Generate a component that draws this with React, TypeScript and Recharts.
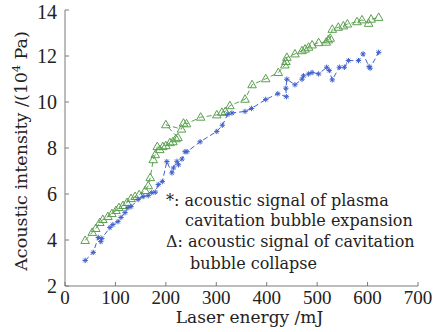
import React from 'react'
import { ScatterChart, Scatter, XAxis, YAxis, Label } from 'recharts'

// axes
const xTicks = [0, 100, 200, 300, 400, 500, 600, 700]
const yTicks = [2, 4, 6, 8, 10, 12, 14]

// "*" : acoustic signal of plasma cavitation bubble expansion
const expansionEnergy = [
  40, 56, 66, 71, 73, 89, 95, 105, 111, 119, 125, 131, 145, 155, 165, 172, 179, 185, 193, 202,
  212, 215, 222, 225, 232, 238, 242, 268, 301, 312, 323, 331, 357, 370, 398, 422, 439, 438, 440,
  456, 470, 473, 483, 490, 503, 519, 524, 530, 544, 554, 562, 582, 591, 603, 605, 622
]
const expansionIntensity = [
  3.11, 3.46, 4.11, 3.93, 4.07, 4.54, 4.67, 4.8, 4.98, 5.19, 5.41, 5.45, 5.76, 5.89, 5.93, 6.06,
  6.08, 6.41, 6.54, 7.41, 6.92, 7.13, 7.42, 7.27, 7.52, 7.84, 7.84, 8.27, 8.72, 8.99, 9.47, 9.52,
  9.59, 9.72, 10.11, 10.36, 10.23, 10.6, 10.99, 10.75, 10.99, 11.14, 11.22, 11.28, 11.22, 11.51,
  11.37, 10.96, 11.51, 11.51, 11.8, 11.8, 12.09, 11.54, 11.47, 12.16
]

// "Δ" : acoustic signal of cavitation bubble collapse
const collapseEnergy = [
  40, 54, 61, 69, 75, 85, 93, 101, 107, 115, 123, 131, 139, 147, 159, 165, 169, 175, 179, 183,
  188, 194, 200, 208, 214, 220, 224, 200, 231, 235, 241, 269, 301, 311, 318, 327, 357, 371, 398,
  423, 436, 438, 440, 456, 470, 476, 483, 490, 503, 518, 522, 526, 530, 542, 552, 560, 579, 589,
  602, 607, 622
]
const collapseIntensity = [
  3.98, 4.33, 4.5, 4.76, 4.89, 5.02, 5.15, 5.28, 5.41, 5.5, 5.63, 5.8, 5.89, 5.97, 6.15, 6.36,
  6.71, 7.49, 7.71, 8.06, 7.93, 8.06, 8.1, 8.23, 8.27, 8.4, 8.45, 9.01, 8.82, 9.08, 9.05, 9.34,
  9.44, 9.55, 9.59, 9.84, 10.12, 10.75, 11.01, 11.28, 11.61, 11.76, 11.94, 12.09, 12.23, 12.3,
  12.38, 12.48, 12.58, 12.6, 12.7, 12.77, 13.16, 13.25, 13.31, 13.39, 13.49, 13.57, 13.42, 13.6,
  13.68
]

const legendLines = [
  '*: acoustic signal of plasma',
  'cavitation bubble expansion',
  'Δ: acoustic signal of cavitation',
  'bubble collapse'
]

const GREEN = '#5aa04e'
const BLUE = '#4060cc'
const AXIS = '#7a7a7a'
const SERIF = '"DejaVu Serif", serif'
const TICK_FONT = '"Liberation Serif", serif'

const expansionData = expansionEnergy.map((e, i) => ({ e, v: expansionIntensity[i] }))
const collapseData = collapseEnergy.map((e, i) => ({ e, v: collapseIntensity[i] }))

// hollow triangle marker
// eslint-disable-next-line @typescript-eslint/no-explicit-any
const TriangleMark = (props: any): React.JSX.Element => {
  const { cx, cy } = props
  return (
    <polygon
      points={`${cx},${cy - 4.5} ${cx - 4.3},${cy + 3} ${cx + 4.3},${cy + 3}`}
      fill="none"
      stroke={GREEN}
      strokeWidth={1}
    />
  )
}

// asterisk marker
// eslint-disable-next-line @typescript-eslint/no-explicit-any
const StarMark = (props: any): React.JSX.Element => {
  const { cx, cy } = props
  const r = 2.7
  const d = 1.9
  return (
    <g stroke={BLUE} strokeWidth={1}>
      <line x1={cx - r} y1={cy} x2={cx + r} y2={cy} />
      <line x1={cx} y1={cy - r} x2={cx} y2={cy + r} />
      <line x1={cx - d} y1={cy - d} x2={cx + d} y2={cy + d} />
      <line x1={cx - d} y1={cy + d} x2={cx + d} y2={cy - d} />
    </g>
  )
}

const legendPos = [
  { left: 166, top: 191 },
  { left: 185, top: 211 },
  { left: 166, top: 232 },
  { left: 190, top: 254 }
]

export default function App(): React.JSX.Element {
  return (
    <div style={{ position: 'absolute', left: 0, top: 0, width: 447, height: 332, background: '#fff' }}>
      <ScatterChart width={447} height={332} margin={{ top: 10, right: 29, bottom: 0, left: 0 }}>
        <XAxis
          dataKey="e"
          type="number"
          domain={[0, 700]}
          ticks={xTicks}
          height={46}
          stroke={AXIS}
          tickSize={-4}
          tickMargin={9}
          tick={{ fill: '#222', fontSize: 19, fontFamily: TICK_FONT }}
        >
          <Label
            // eslint-disable-next-line @typescript-eslint/no-explicit-any
            content={(p: any) => {
              const vb = p.viewBox
              return (
                <text
                  x={vb.x + vb.width / 2 + 8}
                  y={vb.y + 37}
                  textAnchor="middle"
                  fontFamily={SERIF}
                  fontSize={17}
                  fill="#222"
                >
                  Laser energy /mJ
                </text>
              )
            }}
          />
        </XAxis>
        <XAxis
          xAxisId="top"
          orientation="top"
          type="number"
          domain={[0, 700]}
          ticks={xTicks}
          height={0}
          stroke={AXIS}
          tickSize={-4}
          tickFormatter={() => ''}
        />
        <YAxis
          dataKey="v"
          type="number"
          domain={[2, 14]}
          ticks={yTicks}
          width={65}
          stroke={AXIS}
          tickSize={-4}
          tickMargin={12}
          tick={{ fill: '#222', fontSize: 20, fontFamily: TICK_FONT }}
        >
          <Label
            // eslint-disable-next-line @typescript-eslint/no-explicit-any
            content={(p: any) => {
              const vb = p.viewBox
              const cx = 27
              const cy = vb.y + vb.height / 2 + 3
              return (
                <text
                  x={cx}
                  y={cy}
                  transform={`rotate(-90 ${cx} ${cy})`}
                  textAnchor="middle"
                  fontFamily={SERIF}
                  fontSize={17.5}
                  fill="#222"
                >
                  Acoustic intensity /(10
                  <tspan fontSize={11} dy={-7}>4</tspan>
                  <tspan dy={7}> Pa)</tspan>
                </text>
              )
            }}
          />
        </YAxis>
        <YAxis
          yAxisId="right"
          orientation="right"
          type="number"
          domain={[2, 14]}
          ticks={yTicks}
          width={0}
          stroke={AXIS}
          tickSize={-4}
          tickFormatter={() => ''}
        />
        <Scatter
          data={collapseData}
          line={{ stroke: GREEN, strokeWidth: 1, strokeDasharray: '5 3' }}
          shape={TriangleMark}
          isAnimationActive={false}
        />
        <Scatter
          data={expansionData}
          line={{ stroke: BLUE, strokeWidth: 1, strokeDasharray: '5 3' }}
          shape={StarMark}
          isAnimationActive={false}
        />
      </ScatterChart>
      {legendLines.map((t, i) => (
        <div
          key={i}
          style={{
            position: 'absolute',
            left: legendPos[i].left,
            top: legendPos[i].top,
            fontFamily: SERIF,
            fontSize: 16,
            lineHeight: '20px',
            color: '#222',
            whiteSpace: 'nowrap'
          }}
        >
          {t}
        </div>
      ))}
    </div>
  )
}
